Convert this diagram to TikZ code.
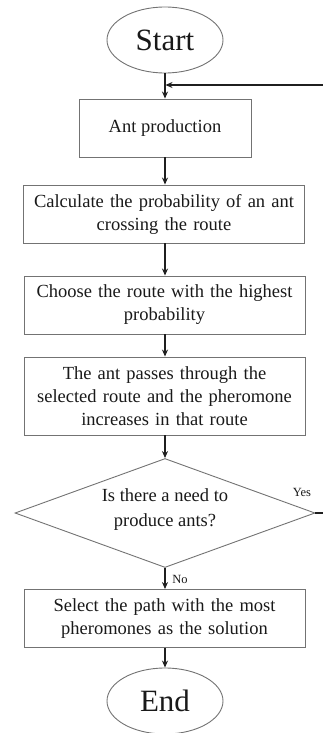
\documentclass[tikz,border=0pt]{standalone}
\usepackage{fontspec}
\setmainfont{Liberation Serif}
\usetikzlibrary{shapes.geometric,arrows.meta}
\tikzset{
  box/.style={draw=black!55, line width=0.9pt, minimum height=58pt, inner sep=0pt, align=center, font=\fontsize{18.5}{23}\selectfont, text=black!90},
  wide/.style={box, minimum width=281pt, text width=275pt},
  term/.style={ellipse, draw=black!55, line width=0.9pt, minimum width=116pt, minimum height=66pt, inner sep=0pt, font=\fontsize{31}{35}\selectfont, text=black!90},
  dec/.style={diamond, draw=black!55, line width=0.9pt, minimum width=300pt, minimum height=109pt, inner sep=0pt},
  arr/.style={line width=1.8pt, draw=black!88, -{Stealth[length=7pt,width=6pt]}},
  ln/.style={line width=1.8pt, draw=black!88},
  lbl/.style={font=\fontsize{12.5}{14}\selectfont, text=black!90}
}
\begin{document}
\begin{tikzpicture}[x=1pt,y=-1pt]
\useasboundingbox (0,0) rectangle (323,733);
\node[term] (start) at (165,40) {Start};
\node[box, minimum width=172pt] (b1) at (165,128) {Ant production};
\node[wide] (b2) at (164,214) {Calculate the probability of an ant\\crossing the route};
\node[wide] (b3) at (164.5,305) {Choose the route with the highest\\probability};
\node[wide, minimum height=78pt] (b4) at (164.5,396) {The ant passes through the\\selected route and the pheromone\\increases in that route};
\node[dec] (d) at (165,513) {};
\node[align=center, font=\fontsize{18.5}{25}\selectfont, text=black!90] (dt) at (165,510) {Is there a need to\\produce ants?};
\node[wide] (b5) at (164.5,618.5) {Select the path with the most\\pheromones as the solution};
\node[term] (end) at (165,701) {End};
\node[lbl] (yes) at (302,492) {Yes};
\node[lbl] (no) at (180,579) {No};
\coordinate (j) at (165.5,85);
\coordinate (r1) at (323,513);
\coordinate (r2) at (323,85);
\draw[arr] (start.south) -- (b1.north);
\draw[arr] (r2) -- (j);
\draw[arr] (b1.south) -- (b1.south |- b2.north);
\draw[arr] (b1.south |- b2.south) -- (b1.south |- b3.north);
\draw[arr] (b1.south |- b3.south) -- (b1.south |- b4.north);
\draw[arr] (b1.south |- b4.south) -- (d.north);
\draw[arr] (d.south) -- (d.south |- b5.north);
\draw[arr] (d.south |- b5.south) -- (end.north);
\draw[ln] (d.east) -- (r1);
\end{tikzpicture}
\end{document}
